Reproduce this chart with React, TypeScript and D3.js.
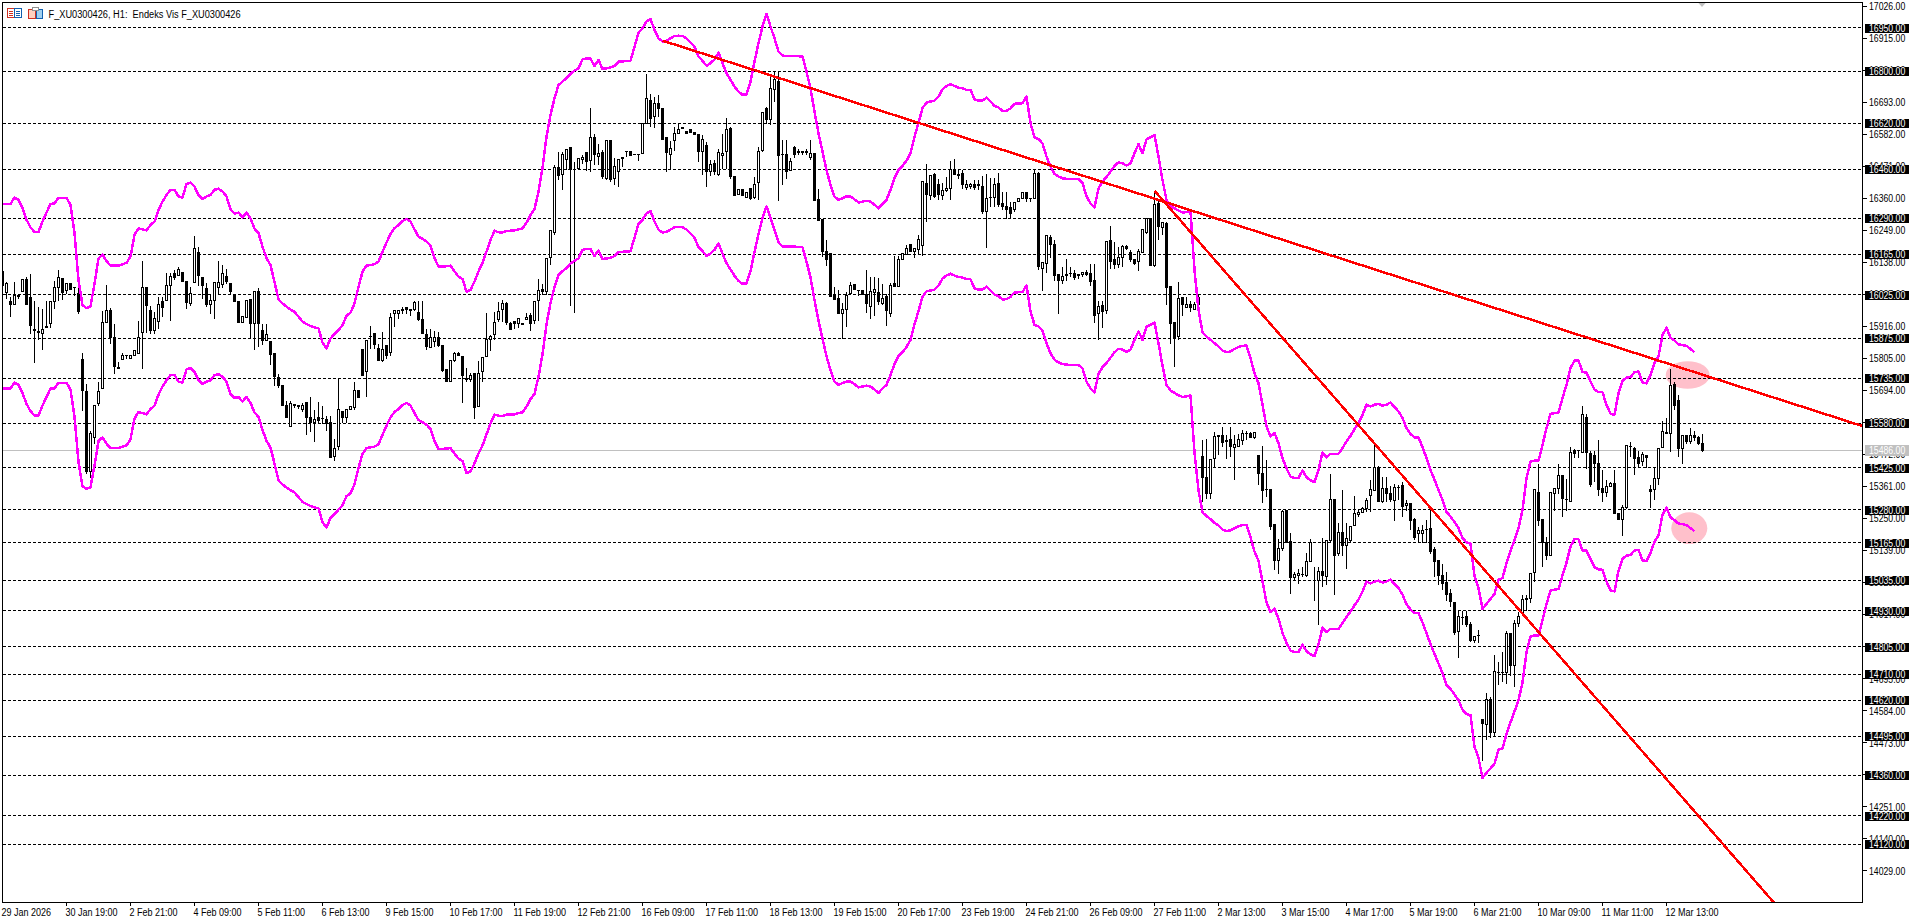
import React from "react";
import * as d3 from "d3";

type Bar = [number, number, number, number];

// open, high, low, close
const candlesJanFeb: Bar[] = [
[16105,16105,16059,16059],[16032,16070,16013,16064],[16003,16018,15949,15992],[15992,16070,15992,16021],[16024,16024,16013,16018],[16036,16078,16036,16078],[16078,16088,15992,15992],[16017,16099,15891,15918],[15905,16007,15790,15900],[15899,15986,15870,15895],
[15891,15978,15836,15905],[15911,16007,15911,15914],[15925,16003,15912,16003],[16001,16076,15976,16051],[16051,16111,16007,16085],[16082,16082,16009,16032],[16039,16064,16030,16064],[16064,16064,16044,16044],[16050,16051,16024,16049],[16030,16051,15961,15966],
[15802,15824,15623,15693],[15691,15718,15406,15412],[15412,15556,15392,15545],[15530,15642,15510,15642],[15649,15723,15642,15690],[15701,15972,15701,15929],[15929,16062,15929,15971],[15971,15981,15857,15877],[15877,15924,15753,15776],[15772,15793,15770,15770],
[15801,15824,15801,15813],[15816,15816,15805,15814],[15805,15814,15805,15814],[15815,15831,15815,15831],[15822,15935,15822,15877],[15895,16145,15770,16051],[16051,16051,15894,15989],[15972,15989,15891,15903],[15903,15966,15891,15943],[15932,16018,15909,15992],
[16001,16018,15949,15980],[16004,16103,16004,16058],[16058,16101,15935,16088],[16099,16111,16078,16084],[16093,16122,16093,16111],[16103,16103,16070,16070],[16071,16071,15977,15998],[15995,16053,15989,16030],[16067,16232,16067,16187],[16173,16192,16056,16093],
[16085,16085,16013,16058],[16048,16067,15986,15993],[15992,16030,15961,16007],[16004,16069,15943,16069],[16051,16145,16030,16069],[16061,16131,16049,16099],[16090,16116,16064,16070],[16064,16064,16026,16036],[16021,16021,16001,16001],[16003,16003,15928,15928],
[15928,15949,15928,15949],[15946,16007,15946,16007],[16009,16009,15877,15926],[15926,16037,15836,16037],[16037,16051,15845,15926],[15903,15926,15854,15866],[15868,15926,15868,15888],[15862,15868,15782,15817],[15820,15820,15712,15741],[15739,15753,15704,15709],
[15709,15709,15641,15641],[15643,15660,15599,15599],[15568,15658,15568,15649],[15645,15649,15635,15643],[15641,15643,15631,15639],[15628,15652,15620,15642],[15651,15651,15542,15599],[15599,15674,15550,15583],[15583,15626,15516,15593],[15599,15654,15579,15589],
[15597,15643,15579,15597],[15593,15608,15556,15579],[15582,15608,15460,15460],[15464,15527,15450,15493],[15499,15735,15489,15626],[15622,15622,15583,15599],[15600,15628,15583,15628],[15628,15637,15628,15637],[15634,15726,15628,15695],[15695,15695,15670,15670],
[15837,15837,15745,15745],[15758,15866,15674,15866],[15882,15920,15839,15879],[15891,15891,15839,15854],[15839,15857,15799,15799],[15799,15899,15793,15836],[15851,15851,15805,15813],[15824,15965,15816,15947],[15961,15969,15914,15969],[15961,15972,15943,15970],
[15969,15984,15961,15975],[15981,15984,15961,15974],[15973,15973,15955,15972],[15974,16007,15972,16000],[15963,16007,15937,15941],[15941,16007,15891,15891],[15888,15909,15836,15847],[15843,15909,15843,15877],[15862,15903,15845,15877],[15877,15897,15847,15851],
[15851,15851,15758,15764],[15767,15767,15726,15726],[15724,15798,15724,15798],[15799,15828,15793,15820],[15822,15828,15814,15814],[15810,15810,15651,15745],[15735,15773,15724,15732],[15732,15756,15724,15745],[15753,15753,15597,15634],[15637,15799,15637,15753],
];

const candlesMidFeb: Bar[] = [
[15759,15806,15724,15806],[15811,15962,15811,15869],[15869,15889,15831,15880],[15886,15967,15871,15929],[15941,16002,15932,15967],[15973,16010,15932,15996],[15994,16002,15921,15929],[15924,15932,15904,15904],[15932,15932,15909,15927],[15924,15944,15913,15944],
[15924,15925,15922,15923],[15938,15964,15938,15947],[15952,15964,15901,15927],[15936,16002,15924,16002],[16005,16083,15936,16040],[16044,16063,16025,16036],[16036,16152,16025,16152],[16155,16248,16129,16248],[16241,16475,16233,16467],[16467,16521,16423,16438],
[16441,16521,16389,16513],[16495,16533,16460,16527],[16536,16536,15988,16460],[16460,16487,15964,16460],[16464,16498,16458,16498],[16495,16513,16481,16500],[16518,16518,16456,16487],[16490,16675,16452,16571],[16571,16583,16475,16513],[16504,16548,16475,16516],
[16518,16527,16429,16435],[16429,16560,16423,16560],[16560,16560,16418,16423],[16429,16502,16409,16469],[16452,16495,16400,16495],[16498,16506,16469,16502],[16521,16522,16504,16521],[16520,16520,16508,16508],[16512,16513,16511,16512],[16513,16514,16490,16513],
[16516,16622,16516,16620],[16620,16791,16620,16706],[16700,16721,16607,16637],[16643,16712,16606,16689],[16687,16718,16643,16670],[16672,16672,16564,16564],[16571,16571,16452,16518],[16512,16560,16460,16531],[16560,16608,16525,16585],[16585,16622,16585,16599],
[16604,16605,16602,16603],[16591,16591,16585,16585],[16599,16599,16588,16588],[16588,16588,16579,16579],[16582,16582,16487,16521],[16521,16582,16441,16564],[16541,16556,16400,16452],[16452,16493,16438,16478],[16481,16495,16441,16452],[16441,16533,16438,16518],
[16508,16585,16464,16516],[16521,16640,16464,16599],[16603,16608,16427,16435],[16435,16435,16369,16369],[16371,16391,16371,16391],[16391,16391,16369,16369],[16363,16380,16363,16380],[16394,16398,16356,16360],[16363,16435,16360,16408],[16414,16539,16357,16521],
[16525,16658,16521,16658],[16672,16677,16620,16634],[16631,16784,16617,16741],[16737,16799,16695,16770],[16766,16799,16352,16508],[16510,16564,16409,16510],[16513,16562,16429,16452],[16456,16502,16456,16488],[16534,16541,16502,16513],[16523,16533,16513,16518],
[16520,16520,16513,16517],[16520,16533,16510,16519],[16501,16562,16495,16516],[16516,16516,16352,16352],[16354,16394,16282,16282],[16285,16285,16158,16175],[16175,16215,16125,16146],[16167,16167,16019,16019],[16025,16054,16008,16008],[16013,16042,15959,15959],
[15961,16000,15875,15973],[15973,16036,15915,16021],[16028,16071,16025,16059],[16062,16062,16042,16042],[16041,16044,16021,16040],[16040,16040,16025,16025],[16025,16114,15963,15994],[15984,16088,15944,16036],[16033,16088,15955,16042],[16033,16086,15990,16002],
[15994,16065,15990,16013],[16019,16031,15917,15970],[15959,16068,15950,16059],[16063,16160,16054,16054],[16054,16160,16054,16146],[16146,16167,16146,16167],[16163,16200,16163,16187],[16198,16198,16175,16175],[16175,16187,16155,16187],[16183,16235,16163,16218],
[16196,16420,16160,16418],[16412,16479,16279,16371],[16368,16438,16354,16438],[16441,16449,16363,16366],[16406,16429,16356,16371],[16369,16414,16354,16385],[16386,16435,16383,16394],[16394,16489,16354,16458],[16458,16498,16441,16441],[16441,16458,16429,16440],
];

const candlesLateFeb: Bar[] = [
[16444,16458,16394,16409],[16398,16423,16391,16409],[16400,16414,16394,16409],[16408,16423,16391,16398],[16406,16423,16389,16405],[16402,16440,16308,16313],[16313,16444,16190,16360],[16363,16432,16331,16363],[16363,16432,16331,16408],[16412,16449,16331,16337],
[16342,16383,16319,16331],[16331,16383,16290,16319],[16328,16348,16290,16308],[16321,16346,16313,16346],[16348,16360,16348,16360],[16360,16379,16360,16379],[16379,16379,16348,16360],[16360,16360,16348,16358],[16360,16458,16360,16446],[16446,16452,16114,16123],
[16117,16137,16040,16137],[16134,16229,16102,16229],[16224,16233,16155,16198],[16201,16215,16074,16091],[16094,16094,15959,16074],[16074,16123,16063,16088],[16094,16152,16074,16093],[16100,16123,16088,16099],[16100,16111,16077,16086],[16097,16097,16082,16091],
[16094,16106,16088,16102],[16103,16111,16093,16096],[16100,16132,16056,16071],[16073,16132,15929,15955],[15959,16007,15871,15984],[15987,16007,15911,15967],[15970,16209,15959,16209],[16213,16264,16117,16140],[16146,16209,16117,16129],[16129,16194,16120,16154],
[16155,16201,16123,16192],[16192,16198,16181,16186],[16171,16183,16140,16148],[16148,16152,16129,16132],[16140,16187,16109,16175],[16171,16252,16171,16252],[16241,16293,16238,16290],[16290,16290,16125,16125],[16125,16386,16123,16339],[16342,16354,16218,16261],
[16259,16275,16233,16275],[16273,16279,15990,16051],[16054,16056,15857,15927],[15929,15929,15776,15875],[15880,16071,15871,16013],[16017,16017,15952,15990],[15981,16019,15981,15992],[15992,16007,15967,15981],[15975,16002,15975,15990],[15990,16030,15990,16015],
[15465,15522,15309,15393],[15393,15528,15320,15335],[15337,15455,15320,15455],[15459,15551,15428,15534],[15536,15540,15470,15535],[15537,15568,15499,15513],[15519,15540,15459,15518],[15522,15568,15465,15499],[15497,15540,15384,15505],[15499,15545,15499,15525],
[15520,15559,15505,15545],[15545,15555,15522,15545],[15545,15550,15530,15532],[15530,15551,15528,15548],[15467,15470,15366,15404],[15404,15502,15305,15347],[15351,15453,15326,15349],[15351,15351,15212,15222],[15228,15228,15072,15104],[15104,15181,15060,15147],
];

const candlesMarch: Bar[] = [
[15147,15282,15139,15274],[15276,15276,15166,15166],[15170,15201,14991,15046],[15045,15066,15035,15054],[15052,15077,15025,15060],[15056,15083,15048,15057],[15052,15132,15048,15100],[15100,15181,15100,15166],[15035,15083,14964,15034],[15035,15083,14881,15066],
[15066,15185,15014,15052],[15048,15177,15020,15175],[15175,15406,15170,15316],[15316,15316,14988,15123],[15129,15236,15121,15202],[15202,15349,15123,15156],[15156,15236,15077,15181],[15173,15227,15170,15222],[15227,15328,15224,15268],[15263,15285,15256,15272],
[15271,15291,15270,15285],[15285,15322,15274,15311],[15329,15386,15274,15349],[15346,15516,15346,15427],[15427,15435,15308,15308],[15308,15395,15305,15354],[15354,15395,15308,15335],[15337,15363,15308,15314],[15312,15372,15242,15358],[15358,15366,15314,15357],
[15363,15378,15256,15291],[15294,15314,15279,15302],[15302,15302,15210,15242],[15245,15254,15178,15185],[15196,15222,15166,15207],[15199,15228,15166,15207],[15210,15245,15166,15210],[15214,15285,15127,15135],[15141,15152,15048,15100],[15103,15103,15020,15052],
[15052,15095,15002,15025],[15029,15066,14964,14988],[14991,15008,14945,14962],[14960,14960,14846,14854],[14858,14931,14768,14910],[14908,14931,14881,14907],[14910,14931,14877,14881],[14884,14892,14823,14827],[14827,14843,14820,14840],[14845,14866,14820,14844],
[14554,14554,14411,14538],[14534,14647,14485,14621],[14624,14633,14492,14508],[14508,14779,14496,14719],[14716,14754,14673,14715],[14716,14788,14685,14715],[14716,14861,14679,14852],[14852,14856,14704,14739],[14739,14898,14667,14887],[14887,14927,14875,14910],
[14921,14988,14921,14968],[14968,14985,14930,14971],[14971,15060,14959,15060],[15062,15351,15031,15351],[15341,15441,15224,15242],[15245,15245,15085,15166],[15168,15187,15106,15121],[15121,15340,15121,15340],[15337,15355,15277,15354],[15355,15441,15337,15400],
[15400,15400,15256,15320],[15316,15389,15279,15315],[15308,15499,15308,15479],[15485,15491,15462,15476],[15487,15487,15462,15486],[15479,15640,15479,15609],[15601,15614,15424,15479],[15476,15487,15360,15366],[15467,15487,15378,15441],[15441,15524,15331,15351],
[15352,15420,15308,15340],[15340,15384,15326,15360],[15360,15378,15360,15372],[15372,15420,15266,15268],[15268,15270,15245,15245],[15245,15297,15190,15288],[15288,15502,15285,15502],[15499,15516,15464,15498],[15493,15499,15401,15459],[15461,15485,15430,15441],
[15447,15481,15435,15472],[15468,15468,15427,15462],[15349,15369,15289,15343],[15351,15427,15316,15387],[15389,15493,15366,15493],[15495,15589,15495,15551],[15547,15600,15545,15546],[15545,15770,15481,15711],[15715,15726,15626,15643],[15660,15680,15464,15493],
[15493,15539,15441,15539],[15539,15542,15510,15516],[15516,15566,15510,15536],[15536,15553,15520,15531],[15531,15539,15505,15508],[15510,15545,15481,15485],
];

const upperEnvelope = [
16340,16340,16340,16362,16354,16325,16285,16259,16243,16243,
16279,16310,16340,16342,16361,16361,16361,16337,16239,16076,
15989,15979,15984,16064,16151,16165,16142,16126,16126,16126,
16131,16136,16157,16233,16255,16252,16248,16267,16279,16319,
16348,16371,16389,16389,16366,16362,16409,16414,16400,16371,
16357,16366,16371,16389,16393,16383,16366,16322,16306,16310,
16294,16310,16290,16254,16239,16192,16152,16128,16070,16009,
15995,15984,15974,15966,15949,15932,15924,15917,15912,15909,
15859,15839,15874,15889,15903,15920,15952,15963,15995,16053,
16105,16126,16128,16131,16140,16174,16206,16236,16256,16267,
16281,16288,16279,16252,16227,16219,16210,16195,16152,16123,
16123,16124,16126,16106,16088,16079,16036,16042,16071,16106,
16135,16175,16215,16247,16242,16241,16247,16247,16248,16252,
16255,16275,16302,16322,16383,16464,16573,16649,16706,16752,
16764,16776,16791,16802,16810,16841,16844,16844,16818,16839,
16808,16810,16813,16818,16833,16834,16835,16836,16885,16934,
16949,16972,16981,16943,16914,16903,16906,16914,16922,16923,
16922,16914,16900,16885,16851,16836,16819,16828,16841,16864,
16828,16793,16770,16747,16729,16718,16720,16764,16833,16897,
16955,16998,16955,16914,16868,16854,16853,16853,16853,16852,
16851,16799,16741,16660,16585,16521,16458,16406,16366,16354,
16360,16366,16366,16356,16345,16348,16351,16348,16337,16325,
16340,16354,16389,16429,16458,16472,16490,16516,16573,16620,
16672,16691,16695,16698,16712,16737,16749,16755,16749,16743,
16741,16735,16735,16703,16698,16698,16708,16695,16680,16674,
16662,16663,16671,16687,16688,16689,16712,16620,16571,16565,
16550,16504,16469,16444,16435,16429,16427,16426,16426,16426,
16414,16366,16342,16327,16394,16418,16433,16452,16472,16484,
16481,16473,16481,16516,16547,16516,16564,16571,16579,16504,
16423,16354,16333,16325,16317,16310,16312,16316,16111,15973,
15894,15880,15869,15857,15846,15832,15826,15829,15837,15844,
15848,15849,15805,15753,15719,15644,15569,15534,15546,15511,
15459,15424,15395,15390,15390,15416,15393,15382,15376,15418,
15479,15462,15474,15474,15474,15494,15517,15536,15559,15580,
15609,15644,15638,15644,15647,15641,15644,15652,15636,15621,
15598,15563,15543,15531,15531,15497,15459,15418,15384,15349,
15314,15272,15257,15237,15216,15182,15167,15162,15049,15008,
14936,14954,14971,14988,15037,15043,15095,15136,15176,15216,
15280,15390,15447,15450,15450,15505,15563,15612,15615,15617,
15667,15713,15771,15797,15797,15757,15756,15725,15696,15688,
15687,15644,15613,15609,15684,15727,15738,15740,15757,15759,
15721,15718,15747,15788,15811,15886,15911,15876,15866,15853,
15851,15848,15837,15826,
];

const lowerEnvelope = [
15700,15700,15700,15721,15713,15685,15647,15622,15606,15606,
15641,15671,15700,15701,15720,15720,15720,15697,15602,15446,
15362,15353,15357,15434,15518,15531,15509,15494,15494,15494,
15499,15503,15524,15597,15618,15615,15611,15629,15641,15679,
15707,15729,15747,15747,15724,15721,15766,15771,15757,15729,
15716,15724,15729,15747,15750,15741,15724,15682,15667,15671,
15655,15671,15651,15617,15602,15557,15519,15496,15440,15382,
15368,15357,15348,15340,15324,15307,15300,15293,15288,15285,
15237,15218,15252,15266,15280,15296,15327,15337,15368,15424,
15474,15494,15496,15499,15507,15540,15571,15600,15619,15629,
15643,15650,15641,15615,15591,15583,15575,15560,15519,15491,
15491,15492,15494,15475,15457,15449,15407,15413,15441,15475,
15503,15541,15579,15610,15606,15605,15610,15610,15611,15615,
15618,15637,15663,15682,15741,15819,15923,15996,16051,16095,
16107,16118,16133,16143,16151,16181,16184,16184,16159,16179,
16149,16151,16154,16159,16173,16174,16175,16176,16223,16270,
16285,16307,16315,16279,16251,16241,16243,16251,16259,16260,
16259,16251,16238,16223,16190,16176,16160,16168,16181,16203,
16168,16135,16113,16091,16073,16063,16065,16107,16173,16235,
16290,16332,16290,16251,16207,16193,16192,16192,16192,16191,
16190,16140,16085,16007,15935,15873,15813,15763,15724,15713,
15719,15724,15724,15715,15704,15707,15710,15707,15697,15685,
15700,15713,15747,15785,15813,15826,15844,15869,15923,15968,
16018,16037,16040,16043,16057,16081,16092,16098,16092,16087,
16085,16079,16079,16048,16043,16043,16053,16040,16026,16020,
16009,16010,16018,16033,16034,16035,16057,15968,15921,15916,
15901,15857,15823,15800,15791,15785,15783,15782,15782,15782,
15770,15724,15701,15687,15751,15774,15789,15807,15826,15838,
15835,15827,15835,15869,15898,15869,15915,15921,15929,15857,
15779,15713,15693,15685,15677,15671,15673,15676,15479,15347,
15271,15258,15247,15235,15225,15211,15206,15209,15216,15223,
15227,15228,15185,15135,15103,15031,14959,14925,14937,14903,
14853,14819,14792,14787,14787,14812,14790,14779,14773,14814,
14872,14856,14867,14867,14867,14887,14909,14927,14949,14969,
14997,15031,15025,15031,15034,15028,15031,15038,15023,15009,
14986,14953,14934,14922,14922,14889,14853,14814,14781,14747,
14714,14673,14659,14640,14620,14587,14572,14568,14459,14420,
14351,14368,14384,14400,14448,14453,14503,14543,14581,14620,
14681,14787,14841,14844,14844,14897,14953,15000,15003,15005,
15053,15097,15153,15178,15178,15139,15138,15109,15081,15073,
15072,15031,15001,14997,15069,15110,15121,15123,15139,15141,
15105,15102,15130,15169,15191,15263,15287,15254,15244,15232,
15230,15227,15216,15206,
];

const priceTicks = [17026,16915,16804,16693,16582,16471,16360,16249,16138,16027,15916,15805,15694,15583,15472,15361,15250,15139,15028,14917,14806,14695,14584,14473,14362,14251,14140,14029];
const levelPrices = [16950,16800,16620,16460,16290,16165,16025,15875,15735,15580,15425,15280,15165,15035,14930,14805,14710,14620,14495,14360,14220,14120];
const bidPrice = 15486;
const timeLabels = ["29 Jan 2026","30 Jan 19:00","2 Feb 21:00","4 Feb 09:00","5 Feb 11:00","6 Feb 13:00","9 Feb 15:00","10 Feb 17:00","11 Feb 19:00","12 Feb 21:00","16 Feb 09:00","17 Feb 11:00","18 Feb 13:00","19 Feb 15:00","20 Feb 17:00","23 Feb 19:00","24 Feb 21:00","26 Feb 09:00","27 Feb 11:00","2 Mar 13:00","3 Mar 15:00","4 Mar 17:00","5 Mar 19:00","6 Mar 21:00","10 Mar 09:00","11 Mar 11:00","12 Mar 13:00"];
const barsPerTimeLabel = 16;
// [bar, price] end points of the two drawn trend lines
const trendFromTop: [number, number][] = [[165, 16906], [465, 15570]];
const trendFromMarch: [number, number][] = [[288, 16386], [443, 13916]];
// [bar, price, barRadius, priceRadius] highlight ellipses
const highlights: [number, number, number, number][] = [[421.3, 15747, 5.5, 48], [421.7, 15216, 4.5, 55]];

const candles: Bar[] = [...candlesJanFeb, ...candlesMidFeb, ...candlesLateFeb, ...candlesMarch];

const font = "'Liberation Sans',Tahoma,sans-serif";
const W = 1920, H = 923;
const left = 2.5, top = 2.5, right = 1862.5, bottom = 902.5;

const x = d3.scaleLinear().domain([0, 1]).range([2.5, 6.5]);
const y = d3.scaleLinear().domain([17026, 14029]).range([6, 870.7]);
const snap = (v: number) => Math.round(v - 0.5) + 0.5;
const line = (vals: number[]) =>
  d3.line<number>().x((_, i) => x(i)).y((d) => y(d)).curve(d3.curveLinear)(vals) ?? "";
const trend = (pts: [number, number][]) =>
  d3.line<[number, number]>().x((d) => x(d[0])).y((d) => y(d[1]))(pts) ?? "";

const Squeezed = ({ px, py, sx, fill, children }: { px: number; py: number; sx: number; fill?: string; children: string }) => (
  <text transform={`translate(${px},${py}) scale(${sx},1)`} fill={fill} style={{ whiteSpace: "pre" }}>{children}</text>
);

export default function App() {
  return (
    <svg width={W} height={H} viewBox={`0 0 ${W} ${H}`} style={{ position: "fixed", left: 0, top: 0, background: "#fff", display: "block" }}>
      <defs>
        <clipPath id="plot"><rect x={left} y={top} width={right - left} height={bottom - top} /></clipPath>
      </defs>

      <g clipPath="url(#plot)">
        {highlights.map((h, i) => (
          <ellipse key={i} cx={x(h[0])} cy={y(h[1])} rx={x(h[2]) - x(0)} ry={y(0) - y(h[3])} fill="#FFC0CB" />
        ))}
        <g shapeRendering="crispEdges">
          {levelPrices.map((p) => (
            <line key={p} x1={left} x2={right} y1={snap(y(p))} y2={snap(y(p))} stroke="#000" strokeWidth={1} strokeDasharray="3 2" />
          ))}
          <line x1={left} x2={right} y1={snap(y(bidPrice))} y2={snap(y(bidPrice))} stroke="#C0C0C0" strokeWidth={1} />
          {candles.map((c, i) => {
            const [o, h, l, cl] = c;
            const cx = x(i);
            const bull = cl >= o;
            const yt = snap(y(Math.max(o, cl)));
            const yb = snap(y(Math.min(o, cl)));
            return (
              <g key={i}>
                <line x1={cx} x2={cx} y1={snap(y(h))} y2={snap(y(l)) + 0.5} stroke="#000" strokeWidth={1} />
                {yb - yt < 1 ? (
                  <line x1={cx - 1.5} x2={cx + 1.5} y1={yt} y2={yt} stroke="#000" strokeWidth={1} />
                ) : (
                  <rect x={cx - 1} y={yt} width={2} height={yb - yt} fill={bull ? "#fff" : "#000"} stroke="#000" strokeWidth={1} />
                )}
              </g>
            );
          })}
          <path d={line(upperEnvelope)} fill="none" stroke="#FF00FF" strokeWidth={2.5} strokeLinejoin="round" />
          <path d={line(lowerEnvelope)} fill="none" stroke="#FF00FF" strokeWidth={2.5} strokeLinejoin="round" />
          <path d={trend(trendFromTop)} fill="none" stroke="#FF0000" strokeWidth={2.5} />
          <path d={trend(trendFromMarch)} fill="none" stroke="#FF0000" strokeWidth={2.5} />
        </g>
        <path d="M1698 2.5 L1706 2.5 L1702 7 Z" fill="#C0C0C0" />
      </g>

      <g shapeRendering="crispEdges">
        <rect x={left} y={top} width={right - left} height={bottom - top} fill="none" stroke="#000" strokeWidth={1} />
        {timeLabels.map((_, i) =>
          i === 0 ? null : (
            <line key={i} x1={x(i * barsPerTimeLabel) - 0.5} x2={x(i * barsPerTimeLabel) - 0.5} y1={bottom} y2={906} stroke="#000" />
          )
        )}
        {priceTicks.map((p) => (
          <line key={p} x1={right} x2={1867} y1={snap(y(p))} y2={snap(y(p))} stroke="#000" />
        ))}
      </g>

      <g fontFamily={font} fontSize={11} fill="#000">
        {timeLabels.map((t, i) => (
          <Squeezed key={t} px={x(i * barsPerTimeLabel) - 1} py={915.5} sx={0.82}>{t}</Squeezed>
        ))}
        {priceTicks.map((p) => (
          <Squeezed key={p} px={1869} py={y(p) + 4} sx={0.79}>{p.toFixed(2)}</Squeezed>
        ))}
        {levelPrices.map((p) => (
          <g key={p}>
            <rect x={1865} y={Math.round(y(p)) - 4} width={44} height={9} fill="#000" shapeRendering="crispEdges" />
            <Squeezed px={1869} py={y(p) + 4} sx={0.79} fill="#fff">{p.toFixed(2)}</Squeezed>
          </g>
        ))}
        <rect x={1865} y={Math.round(y(bidPrice)) - 5} width={44} height={11} fill="#C0C0C0" shapeRendering="crispEdges" />
        <Squeezed px={1869} py={y(bidPrice) + 4} sx={0.79} fill="#fff">{bidPrice.toFixed(2)}</Squeezed>
        <Squeezed px={48.5} py={17.5} sx={0.84}>{"F_XU0300426, H1:  Endeks Vis F_XU0300426"}</Squeezed>
      </g>

      <g shapeRendering="crispEdges" fill="none" strokeWidth={1}>
        <rect x={7.5} y={8.5} width={14} height={9} stroke="#D03020" fill="#fff" />
        <line x1={14.5} x2={14.5} y1={8.5} y2={17.5} stroke="#1060B0" />
        <rect x={14.5} y={8.5} width={7} height={9} stroke="#1060B0" />
        <path d="M9 11.5H13M9 13.5H13M9 15.5H13" stroke="#D03020" />
        <path d="M16 11.5H20M16 13.5H20M16 15.5H20" stroke="#1060B0" />
        <rect x={28.5} y={9.5} width={7} height={9} stroke="#D03020" fill="#FFD0C0" />
        <rect x={36.5} y={9.5} width={6} height={9} stroke="#1060B0" fill="#A0D0F0" />
        <rect x={32.5} y={7.5} width={6} height={3} stroke="#909090" fill="#fff" />
      </g>
    </svg>
  );
}
